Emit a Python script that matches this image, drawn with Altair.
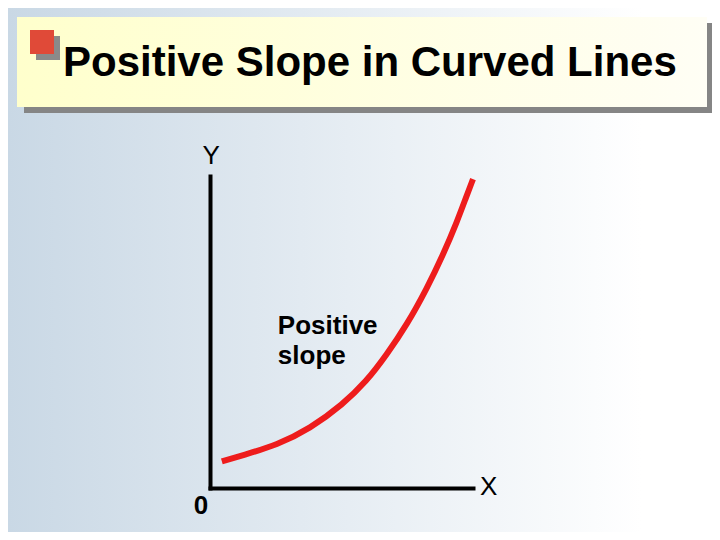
""" Slide chart: positive slope in curved lines """
import altair as alt
import pandas as pd

# curve (axis units 0..10)
curve_x = [0.45, 1.25, 2.55, 3.8, 5.05, 5.95, 6.7, 7.5, 8.25, 8.85, 9.4, 9.75, 10.0]
curve_y = [0.85, 1.05, 1.38, 1.9, 2.68, 3.42, 4.25, 5.25, 6.4, 7.45, 8.55, 9.35, 9.9]

# axis captions and their anchor points
label_text = ["Y", "X"]
label_x = [0.04, 10.6]
label_y = [10.64, 0.03]
origin_text = ["0"]
note_text = ["Positive", "slope"]
note_x = [2.58, 2.58]
note_y = [4.93, 3.97]

title_text = "Positive Slope in Curved Lines"

FONT = "Liberation Sans"
one = alt.Data(values=[{}])

curve = pd.DataFrame({"x": curve_x, "y": curve_y})
labels = pd.DataFrame({"t": label_text, "x": label_x, "y": label_y})
origin = pd.DataFrame({"t": origin_text, "x": [-0.34], "y": [-0.58]})
note = pd.DataFrame({"t": note_text, "x": note_x, "y": note_y})

x_scale = alt.Scale(domain=[0, 10], nice=False, zero=False)
y_scale = alt.Scale(domain=[0, 10], nice=False, zero=False)
axis_style = dict(domain=True, domainColor="black", domainWidth=4, domainCap="square",
                  ticks=False, labels=False, grid=False, title=None, zindex=1)

# slide background and title box
background = (alt
    .Chart(one)
    .mark_rect(color=alt.LinearGradient(
        gradient="linear", x1=0, x2=1, y1=0, y2=0,
        stops=[alt.GradientStop(color="#c9d8e5", offset=0),
               alt.GradientStop(color="#ffffff", offset=0.9)]))
    .encode(x=alt.value(-202), x2=alt.value(502), y=alt.value(-168), y2=alt.value(356))
)
box_shadow = (alt
    .Chart(one)
    .mark_rect(color="#858585")
    .encode(x=alt.value(-186), x2=alt.value(504), y=alt.value(-153), y2=alt.value(-63))
)
box = (alt
    .Chart(one)
    .mark_rect(color=alt.LinearGradient(
        gradient="linear", x1=0, x2=1, y1=0, y2=0,
        stops=[alt.GradientStop(color="#ffffcc", offset=0),
               alt.GradientStop(color="#fffef5", offset=1)]))
    .encode(x=alt.value(-193), x2=alt.value(497), y=alt.value(-159), y2=alt.value(-69))
)
bullet_shadow = (alt
    .Chart(one)
    .mark_rect(color="#8a8a8a")
    .encode(x=alt.value(-174), x2=alt.value(-150), y=alt.value(-140), y2=alt.value(-116))
)
bullet = (alt
    .Chart(one)
    .mark_rect(color="#e04a38")
    .encode(x=alt.value(-180), x2=alt.value(-156), y=alt.value(-146), y2=alt.value(-122))
)
title = (alt
    .Chart(one)
    .mark_text(text=title_text, font=FONT, fontSize=42, fontWeight="bold",
               color="black", align="left", baseline="alphabetic")
    .encode(x=alt.value(-147), y=alt.value(-100))
)

# the curve itself
line = (alt
    .Chart(curve)
    .mark_line(color="#ee1c1c", strokeWidth=6, strokeCap="butt", interpolate="basis")
    .encode(
        x=alt.X("x:Q", scale=x_scale, axis=alt.Axis(**axis_style)),
        y=alt.Y("y:Q", scale=y_scale, axis=alt.Axis(**axis_style))
    )
)
axis_labels = (alt
    .Chart(labels)
    .mark_text(font=FONT, fontSize=26, color="black", align="center", baseline="middle")
    .encode(x=alt.X("x:Q", scale=x_scale), y=alt.Y("y:Q", scale=y_scale), text="t:N")
)
origin_label = (alt
    .Chart(origin)
    .mark_text(font=FONT, fontSize=26, fontWeight="bold", color="black",
               align="center", baseline="middle")
    .encode(x=alt.X("x:Q", scale=x_scale), y=alt.Y("y:Q", scale=y_scale), text="t:N")
)
note_label = (alt
    .Chart(note)
    .mark_text(font=FONT, fontSize=26, fontWeight="bold", color="black",
               align="left", baseline="alphabetic")
    .encode(x=alt.X("x:Q", scale=x_scale), y=alt.Y("y:Q", scale=y_scale), text="t:N")
)

chart = (alt
    .layer(background, box_shadow, box, bullet_shadow, bullet, title,
           line, axis_labels, origin_label, note_label)
    .properties(width=263, height=312,
                padding={"left": 202, "top": 168, "right": 239, "bottom": 44},
                autosize=alt.AutoSizeParams(type="none"))
    .configure_view(stroke=None)
    .configure(background="#ffffff")
)

chart.save("out.html", embed_options={"renderer": "svg", "actions": False})
